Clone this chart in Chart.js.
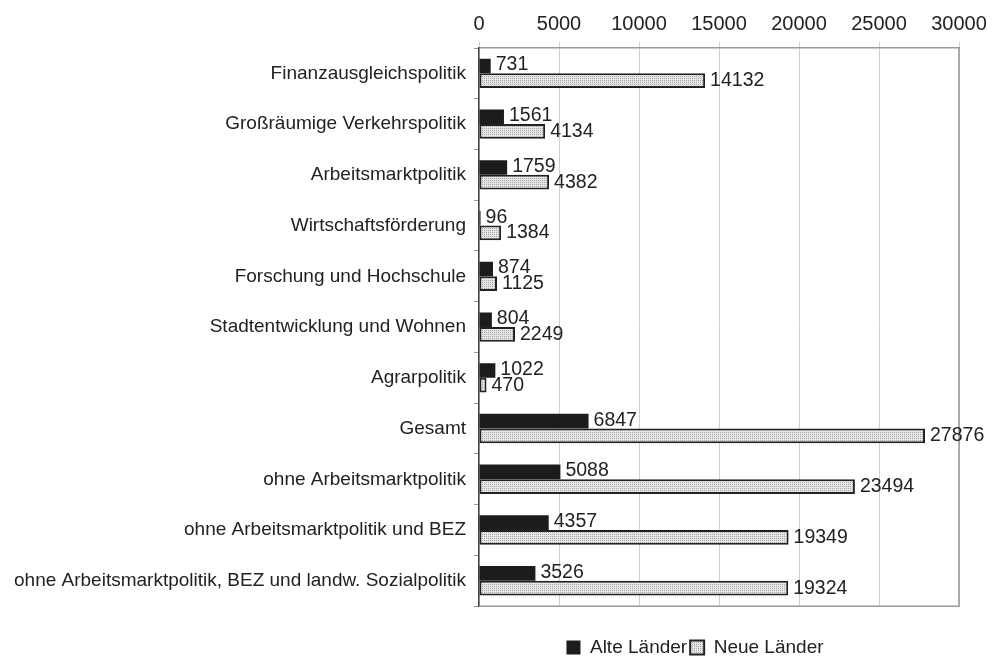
<!DOCTYPE html>
<html>
<head>
<meta charset="utf-8">
<script src="https://cdn.jsdelivr.net/npm/chart.js@4"></script>
<style>
  html, body { margin: 0; padding: 0; background: #fff; }
  #wrap { width: 994px; height: 657px; }
</style>
</head>
<body>
<div id="wrap"><canvas id="chart"></canvas></div>
<script>
// Kategorien und Werte
const categories = [
  'Finanzausgleichspolitik',
  'Großräumige Verkehrspolitik',
  'Arbeitsmarktpolitik',
  'Wirtschaftsförderung',
  'Forschung und Hochschule',
  'Stadtentwicklung und Wohnen',
  'Agrarpolitik',
  'Gesamt',
  'ohne Arbeitsmarktpolitik',
  'ohne Arbeitsmarktpolitik und BEZ',
  'ohne Arbeitsmarktpolitik, BEZ und landw. Sozialpolitik'
];
const alteLaender = [731, 1561, 1759, 96, 874, 804, 1022, 6847, 5088, 4357, 3526];
const neueLaender = [14132, 4134, 4382, 1384, 1125, 2249, 470, 27876, 23494, 19349, 19324];
const xTicks = [0, 5000, 10000, 15000, 20000, 25000, 30000];

const FONT = '"Liberation Sans", Arial, sans-serif';
const TEXT = '#222';

// feines Punktmuster für "Neue Länder"
function makePattern() {
  const c = document.createElement('canvas');
  c.width = 2; c.height = 2;
  const g = c.getContext('2d');
  g.fillStyle = '#e6e6e6'; g.fillRect(0, 0, 2, 2);
  g.fillStyle = '#a8a8a8'; g.fillRect(0, 0, 1, 1);
  return g.createPattern(c, 'repeat');
}
const dotted = makePattern();

// Werte neben die Balken schreiben
const valueLabels = {
  id: 'valueLabels',
  afterDatasetsDraw(chart) {
    const ctx = chart.ctx;
    ctx.save();
    ctx.font = '19.5px ' + FONT;
    ctx.fillStyle = TEXT;
    ctx.textAlign = 'left';
    ctx.textBaseline = 'middle';
    chart.data.datasets.forEach((ds, i) => {
      const meta = chart.getDatasetMeta(i);
      meta.data.forEach((bar, j) => {
        const dy = i === 0 ? -1 : 0;
        ctx.fillText(String(ds.data[j]), bar.x + 5, bar.y + dy);
      });
    });
    ctx.restore();
  }
};

// rechter und unterer Rahmen der Zeichenfläche
const frame = {
  id: 'frame',
  beforeDatasetsDraw(chart) {
    const { ctx, chartArea: a } = chart;
    ctx.save();
    ctx.strokeStyle = '#999';
    ctx.lineWidth = 1.5;
    ctx.beginPath();
    ctx.moveTo(a.right, a.top);
    ctx.lineTo(a.right, a.bottom);
    ctx.lineTo(a.left, a.bottom);
    ctx.stroke();
    ctx.restore();
  }
};

// Legende etwas nach links schieben (wie im Original)
const legendShift = {
  id: 'legendShift',
  afterLayout(chart) {
    if (!chart.legend) return;
    chart.legend.left -= 24;
    chart.legend.right -= 24;
  }
};

new Chart(document.getElementById('chart'), {
  type: 'bar',
  data: {
    labels: categories,
    datasets: [
      {
        label: 'Alte Länder',
        data: alteLaender,
        backgroundColor: '#1c1c1c',
        borderColor: '#1c1c1c',
        borderWidth: 0,
        categoryPercentage: 0.58,
        barPercentage: 1.0
      },
      {
        label: 'Neue Länder',
        data: neueLaender,
        backgroundColor: dotted,
        borderColor: '#222',
        borderWidth: 2,
        borderSkipped: false,
        categoryPercentage: 0.58,
        barPercentage: 1.0
      }
    ]
  },
  options: {
    indexAxis: 'y',
    responsive: true,
    maintainAspectRatio: false,
    animation: false,
    layout: { padding: { left: 6, right: 35, top: 6, bottom: -10 } },
    scales: {
      x: {
        position: 'top',
        min: 0,
        max: 30000,
        afterBuildTicks(axis) { axis.ticks = xTicks.map(v => ({ value: v })); },
        ticks: { color: TEXT, font: { family: FONT, size: 20 }, padding: 6, callback: v => String(v) },
        grid: { color: '#cfcfcf', lineWidth: 1, tickLength: 6, tickColor: '#cfcfcf' },
        border: { color: '#999', width: 1.5 }
      },
      y: {
        ticks: { color: TEXT, font: { family: FONT, size: 19 }, padding: 8 },
        grid: { drawOnChartArea: false, tickLength: 5, tickColor: '#999', offset: true },
        border: { color: '#444', width: 1.5 }
      }
    },
    plugins: {
      legend: {
        position: 'bottom',
        fullSize: false,
        title: { display: true, text: ' ', font: { family: FONT, size: 19 }, padding: { top: 6, bottom: 0 } },
        labels: {
          color: TEXT,
          font: { family: FONT, size: 19 },
          boxWidth: 14,
          boxHeight: 14,
          padding: 3
        }
      },
      tooltip: { enabled: false }
    }
  },
  plugins: [valueLabels, frame, legendShift]
});
</script>
</body>
</html>
